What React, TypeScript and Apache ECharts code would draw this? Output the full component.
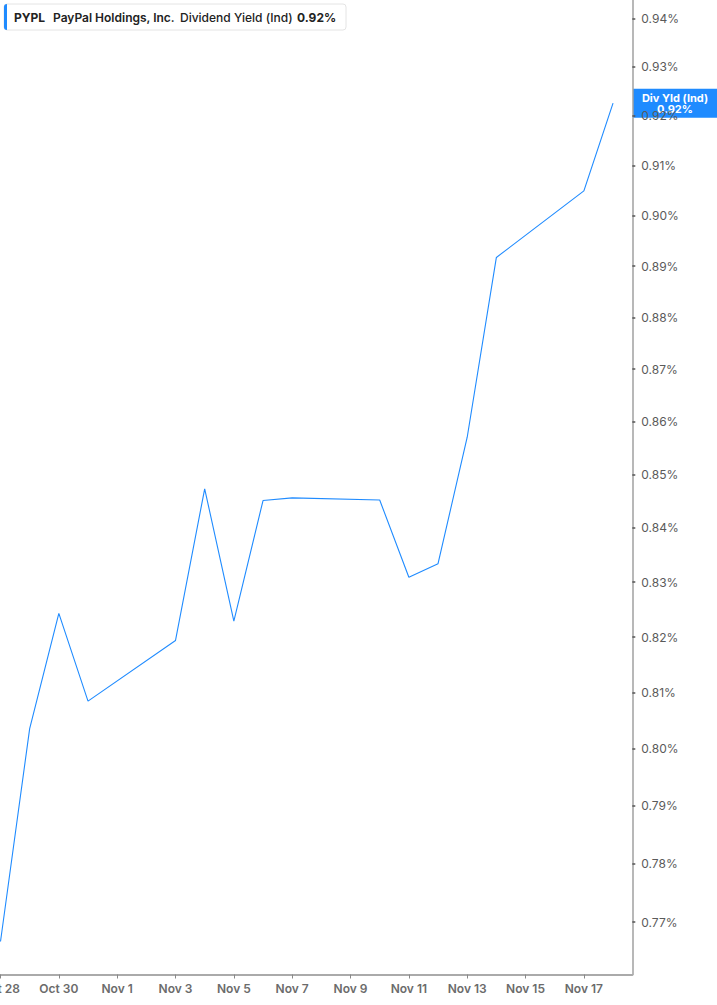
import React, { useEffect, useRef } from 'react';
import * as echarts from 'echarts';

// trading days (weekends skipped) and dividend yield in %
const tradeDates = [
  '2025-10-28', '2025-10-29', '2025-10-30', '2025-10-31',
  '2025-11-03', '2025-11-04', '2025-11-05', '2025-11-06', '2025-11-07',
  '2025-11-10', '2025-11-11', '2025-11-12', '2025-11-13', '2025-11-14',
  '2025-11-17', '2025-11-18',
];
const divYield = [
  0.7667, 0.8036, 0.8243, 0.8085,
  0.8194, 0.8473, 0.8229, 0.8451, 0.8456,
  0.8452, 0.8309, 0.8334, 0.857, 0.8917,
  0.9049, 0.9226,
];

const xTickDates = [
  '2025-10-28', '2025-10-30', '2025-11-01', '2025-11-03', '2025-11-05', '2025-11-07',
  '2025-11-09', '2025-11-11', '2025-11-13', '2025-11-15', '2025-11-17',
];
const yTicks = [
  0.77, 0.78, 0.79, 0.8, 0.81, 0.82, 0.83, 0.84, 0.85,
  0.86, 0.87, 0.88, 0.89, 0.9, 0.91, 0.92, 0.93, 0.94,
];

const MONTHS = ['Jan', 'Feb', 'Mar', 'Apr', 'May', 'Jun', 'Jul', 'Aug', 'Sep', 'Oct', 'Nov', 'Dec'];
const DAY = 86400000;
const t0 = Date.parse(tradeDates[0]);
const dayOffset = (d: string) => (Date.parse(d) - t0) / DAY;
const fmtDay = (off: number) => {
  const d = new Date(t0 + Math.round(off) * DAY);
  return `${MONTHS[d.getUTCMonth()]} ${d.getUTCDate()}`;
};

const BLUE = '#1f8bff';
const FONT = 'Inter, "Noto Sans", sans-serif';

export default function App() {
  const ref = useRef<HTMLDivElement>(null);

  useEffect(() => {
    if (!ref.current) return;
    const chart = echarts.init(ref.current, undefined, { renderer: 'svg' });

    // log-scaled y: plot log10 of the yield, label back in %
    const points = tradeDates.map((d, i) => [dayOffset(d), Math.log10(divYield[i])]);
    const last = divYield[divYield.length - 1];

    const option: any = {
      animation: false,
      backgroundColor: '#fff',
      grid: { left: 0.5, right: 84.7, top: 0, bottom: 30.5, containLabel: false, outerBoundsMode: 'none' },
      xAxis: {
        type: 'value',
        min: 0,
        max: 21.66,
        splitLine: { show: false },
        axisLine: { show: true, onZero: false, lineStyle: { color: '#aaaaaa', width: 2 } },
        axisTick: {
          show: true,
          length: 4,
          lineStyle: { color: '#888', width: 1 },
          customValues: xTickDates.map(dayOffset),
        },
        axisLabel: {
          customValues: xTickDates.map(dayOffset),
          formatter: (v: number) => fmtDay(v),
          color: '#6b6b6b',
          fontSize: 12,
          fontWeight: 600,
          fontFamily: FONT,
          margin: 8,
        },
      },
      yAxis: {
        type: 'value',
        position: 'right',
        min: Math.log10(0.76114),
        max: Math.log10(0.94385),
        splitLine: { show: false },
        axisLine: { show: true, onZero: false, lineStyle: { color: '#a0a0a0', width: 1.5 } },
        axisTick: {
          show: true,
          length: 3,
          lineStyle: { color: '#555', width: 1.5 },
          customValues: yTicks.map((t) => Math.log10(t)),
        },
        axisLabel: {
          customValues: yTicks.map((t) => Math.log10(t)),
          formatter: (v: number) => `${Math.pow(10, v).toFixed(2)}%`,
          color: '#5a5a5a',
          fontSize: 12,
          fontFamily: FONT,
          margin: 9,
        },
      },
      series: [
        {
          type: 'line',
          data: points,
          showSymbol: false,
          lineStyle: { color: BLUE, width: 1.1 },
          clip: false,
        },
      ],
    };
    chart.setOption(option);

    const lastY = chart.convertToPixel({ yAxisIndex: 0 }, Math.log10(last)) as number;

    chart.setOption({
      graphic: [
        {
          type: 'group',
          children: [
            {
              type: 'rect',
              shape: { x: 4, y: 4, width: 342, height: 26, r: 3 },
              style: { fill: '#fff', stroke: '#e4e4e4', lineWidth: 1 },
            },
            {
              type: 'rect',
              shape: { x: 4, y: 4, width: 3, height: 26, r: [3, 0, 0, 3] },
              style: { fill: BLUE },
            },
            {
              type: 'text',
              x: 14,
              y: 17,
              style: { text: 'PYPL', font: `700 12px ${FONT}`, fill: '#222', verticalAlign: 'middle' },
            },
            {
              type: 'text',
              x: 53,
              y: 17,
              style: { text: 'PayPal Holdings, Inc.', font: `600 12px ${FONT}`, fill: '#222', verticalAlign: 'middle' },
            },
            {
              type: 'text',
              x: 180,
              y: 17,
              style: { text: 'Dividend Yield (Ind)', font: `500 12px ${FONT}`, fill: '#222', verticalAlign: 'middle' },
            },
            {
              type: 'text',
              x: 297,
              y: 17,
              style: { text: `${last.toFixed(2)}%`, font: `700 12px ${FONT}`, fill: '#222', verticalAlign: 'middle' },
            },
          ],
        },
        {
          type: 'group',
          z: 100,
          children: [
            {
              type: 'rect',
              shape: { x: 633, y: lastY - 14.5, width: 84, height: 29 },
              style: { fill: BLUE },
            },
            {
              type: 'text',
              x: 675,
              y: lastY - 5,
              style: {
                text: 'Div Yld (Ind)',
                font: `700 11px ${FONT}`,
                fill: '#fff',
                align: 'center',
                verticalAlign: 'middle',
              },
            },
            {
              type: 'text',
              x: 675,
              y: lastY + 6,
              style: {
                text: `${last.toFixed(2)}%`,
                font: `700 11px ${FONT}`,
                fill: '#fff',
                align: 'center',
                verticalAlign: 'middle',
              },
            },
          ],
        },
      ],
    });

    return () => {
      chart.dispose();
    };
  }, []);

  return (
    <div
      ref={ref}
      style={{ position: 'fixed', left: 0, top: 0, width: 717, height: 1005 }}
    />
  );
}
